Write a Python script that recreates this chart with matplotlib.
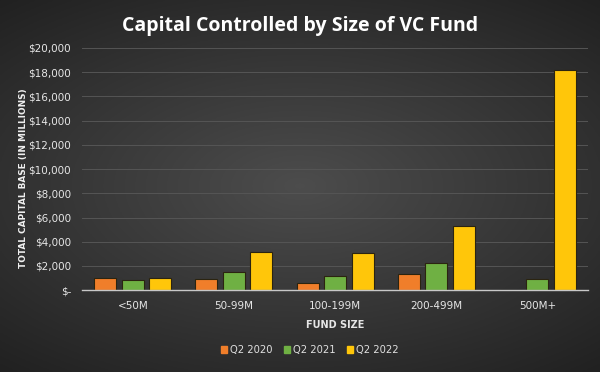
import numpy as np
import matplotlib.pyplot as plt
from matplotlib.ticker import FuncFormatter
from matplotlib.patches import Patch

categories = ["<50M", "50-99M", "100-199M", "200-499M", "500M+"]
series = ["Q2 2020", "Q2 2021", "Q2 2022"]
q2_2020 = [1000, 960, 600, 1370, 0]
q2_2021 = [820, 1460, 1150, 2220, 960]
q2_2022 = [1010, 3150, 3070, 5300, 18200]
colors = ["#F07E2A", "#6FB043", "#FFC60A"]

fig = plt.figure(figsize=(6, 3.72), dpi=100)

# dark radial background
bg = fig.add_axes([0, 0, 1, 1], zorder=-10)
yy, xx = np.mgrid[-1:1:200j, -1:1:320j]
r = np.sqrt((xx * 0.85) ** 2 + (yy * 1.0) ** 2)
g = np.clip(0.30 - 0.13 * r, 0.12, 0.32)
bg.imshow(np.dstack([g, g, g]), aspect="auto", extent=[0, 1, 0, 1])
bg.axis("off")

ax = fig.add_axes([0.137, 0.22, 0.843, 0.651])
ax.patch.set_alpha(0)

x = np.arange(len(categories))
w = 0.218
step = 0.272
for i, (vals, c) in enumerate(zip([q2_2020, q2_2021, q2_2022], colors)):
    ax.bar(x + (i - 1) * step, vals, w, color=c, edgecolor="#2b2410", linewidth=0.8,
           zorder=3)

ax.set_xlim(-0.5, 4.5)
ax.set_ylim(0, 20000)
ax.set_yticks(range(0, 20001, 2000))
ax.yaxis.set_major_formatter(FuncFormatter(lambda v, p: "$-" if v == 0 else f"${v:,.0f}"))
ax.set_xticks(x)
ax.set_xticklabels(categories)
ax.grid(axis="y", color="#555555", linewidth=0.7, zorder=0)
for s in ["top", "right", "left"]:
    ax.spines[s].set_visible(False)
ax.spines["bottom"].set_color("#c8c8c8")
ax.spines["bottom"].set_linewidth(1.0)
ax.spines["bottom"].set_zorder(4)
ax.tick_params(length=0, colors="#e6e6e6", labelsize=7.5, pad=8)
ax.tick_params(axis="y", pad=8)

ax.set_xlabel("FUND SIZE", color="#e6e6e6", fontsize=7, fontweight="bold", labelpad=6)
ax.set_ylabel("TOTAL CAPITAL BASE (IN MILLIONS)", color="#f0f0f0", fontsize=6.4,
              fontweight="bold")
ax.yaxis.set_label_coords(-0.107, 0.463)

fig.text(0.5, 0.93, "Capital Controlled by Size of VC Fund", ha="center", va="center",
         color="white", fontsize=14, fontweight="bold", family="Open Sans")

handles = [Patch(color=c, label=s) for c, s in zip(colors, series)]
ax.legend(handles=handles, loc="upper center", bbox_to_anchor=(0.45, -0.19), ncol=3,
          frameon=False, fontsize=7.2, labelcolor="#e0e0e0", handlelength=0.6,
          handleheight=0.6, handletextpad=0.3, columnspacing=1.1)

fig.savefig("out.png", dpi=100)
